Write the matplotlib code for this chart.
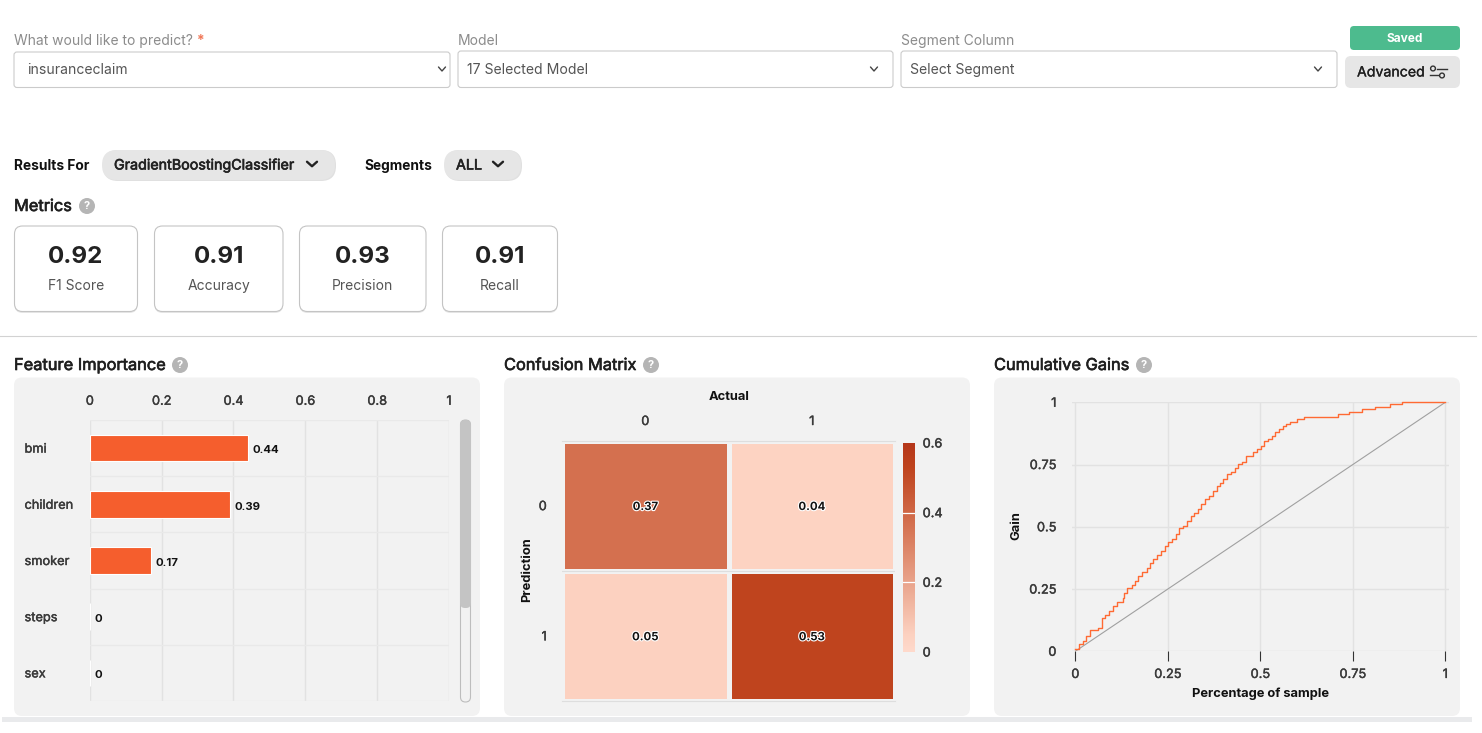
import matplotlib
matplotlib.use('Agg')
import matplotlib.pyplot as plt
import matplotlib.patheffects as pe
from matplotlib.colors import LinearSegmentedColormap
from matplotlib.patches import FancyBboxPatch, Circle
import numpy as np

plt.rcParams['font.family'] = ['Inter', 'DejaVu Sans']

W, H = 1482, 733

# data
metric_names = ['F1 Score', 'Accuracy', 'Precision', 'Recall']
metric_values = ['0.92', '0.91', '0.93', '0.91']

features = ['bmi', 'children', 'smoker', 'steps', 'sex']
importance = [0.44, 0.39, 0.17, 0, 0]
importance_ticks = [0, 0.2, 0.4, 0.6, 0.8, 1]
importance_ticklabels = ['0', '0.2', '0.4', '0.6', '0.8', '1']

confusion = [[0.37, 0.04], [0.05, 0.53]]
confusion_classes = ['0', '1']
colorbar_ticks = [0, 0.2, 0.4, 0.6]
colorbar_ticklabels = ['0', '0.2', '0.4', '0.6']

gain_x = [0, .011, .02, .03, .04, .06, .071, .08, .09, .103, .112, .13, .132, .141, .152, .161, .17, .181,
          .193, .202, .211, .22, .231, .242, .251, .26, .271, .281, .292, .301, .312, .322, .331, .341, .35,
          .361, .372, .382, .391, .40, .411, .421, .432, .441, .45, .46, .479, .49, .501, .511, .522, .531,
          .541, .551, .56, .57, .581, .60, .619, .711, .741, .774, .81, .85, .882, 1]
gain_y = [.01, .03, .04, .06, .086, .092, .133, .145, .16, .183, .20, .215, .233, .253, .266, .282, .304, .32,
          .333, .353, .371, .387, .403, .423, .44, .451, .471, .494, .502, .523, .542, .557, .573, .593, .612,
          .622, .643, .663, .676, .692, .711, .722, .738, .751, .762, .783, .802, .814, .826, .845, .854, .866,
          .882, .893, .904, .912, .922, .932, .942, .952, .962, .972, .983, .992, 1, 1]
gain_ticks = [0, 0.25, 0.5, 0.75, 1]
gain_ticklabels = ['0', '0.25', '0.5', '0.75', '1']

PANEL = '#F2F2F2'
GRID = '#E2E2E2'
TICK = '#3A3A3A'
DARK = '#1F1F1F'
GREY = '#8C8C8C'

fig = plt.figure(figsize=(W / 100, H / 100), dpi=100, facecolor='white')
ui = fig.add_axes([0, 0, 1, 1])
ui.set_xlim(0, W)
ui.set_ylim(H, 0)
ui.axis('off')


def box(x0, y0, x1, y1, r=4, fc='white', ec='none', lw=1.0, z=1):
    ui.add_patch(FancyBboxPatch((x0, y0), x1 - x0, y1 - y0, boxstyle=f'round,pad=0,rounding_size={r}',
                                fc=fc, ec=ec, lw=lw, zorder=z))


def medium(color, lw=0.3):
    # Inter only comes in regular and bold here, a thin stroke gives the medium look
    return [pe.withStroke(linewidth=lw, foreground=color)]


def txt(x, y, s, size=9.5, color=DARK, weight='normal', ha='left', va='center', **kw):
    # the +1.5 lines the text up with the reference's baselines
    ui.text(x, y + 1.5, s, fontsize=size, color=color, fontweight=weight, ha=ha, va=va, zorder=5, **kw)


def chevron(x, y, w=3.5, h=4, color='#444444', lw=1.0):
    ui.plot([x - w, x, x + w], [y - h / 2, y + h / 2, y - h / 2], color=color, lw=lw, zorder=5,
            solid_capstyle='round', solid_joinstyle='round')


def help_icon(x, y):
    ui.add_patch(Circle((x, y), 8, fc='#B5B5B5', ec='none', zorder=4))
    txt(x, y - 1.5, '?', size=8, color='white', weight='bold', ha='center')


# top form
txt(14, 40, 'What would like to predict?', size=10, color=GREY)
txt(197, 39, '*', size=10, color='#F0795A', weight='bold')
txt(458, 39.5, 'Model', size=10, color=GREY)
txt(901, 39.5, 'Segment Column', size=10, color=GREY)
for x0, x1, y0, label, lx, cx, ly in [(14, 450, 52, 'insuranceclaim', 27, 442, 69),
                                      (458, 893, 51, '17 Selected Model', 467, 874, 68),
                                      (901, 1337, 51, 'Select Segment', 910, 1318, 68.4)]:
    box(x0, y0, x1, 87.5, r=3, ec='#CBCBCB', lw=0.8)
    txt(lx, ly, label, size=10.1, color='#555555')
    chevron(cx, 69)
box(1350, 26, 1460, 50, r=4, fc='#4DBB8E')
txt(1405, 37, 'Saved', size=8.6, color='white', weight='bold', ha='center')
box(1345, 56, 1460, 88, r=6, fc='#E6E6E6')
txt(1357, 71, 'Advanced', size=10.2, color=DARK, path_effects=medium(DARK, 0.2))
ui.plot([1437, 1447], [69, 69], color='#333333', lw=1, zorder=5)
ui.plot([1430, 1438], [75, 75], color='#333333', lw=1, zorder=5)
ui.add_patch(Circle((1433, 68.5), 2.4, fc='none', ec='#333333', lw=1, zorder=5))
ui.add_patch(Circle((1442, 75.5), 2.4, fc='none', ec='#333333', lw=1, zorder=5))

# results row
txt(14, 164, 'Results For', size=9.9, color='#111111', weight='bold')
box(103, 150, 336, 181, r=15, fc='#E0E0E0', z=1)
box(102, 150, 335, 180, r=15, fc='#E6E6E6', z=2)
txt(114, 164, 'GradientBoostingClassifier', size=10.3, color='#222222', path_effects=medium('#222222', 0.45))
chevron(312, 164, w=5, h=4.5, color='#222222', lw=1.7)
txt(364, 164.4, 'Segments', size=9.9, color='#111111', weight='bold')
box(445, 150, 522, 181, r=15, fc='#E0E0E0', z=1)
box(444, 150, 521, 180, r=15, fc='#E6E6E6', z=2)
txt(456, 164, 'ALL', size=10.3, color='#222222', path_effects=medium('#222222', 0.45))
chevron(498, 164, w=5, h=4.5, color='#222222', lw=1.7)

# metric cards
txt(14, 205, 'Metrics', size=11.8, color=DARK, path_effects=medium(DARK, 0.45))
help_icon(87, 206)
card_edges = [(14.5, 137.5), (154.5, 283), (299.5, 426), (442.5, 557.5)]
for (x0, x1), name, value in zip(card_edges, metric_names, metric_values):
    box(x0, 227, x1, 313, r=8, fc='#E6E6E6', z=1)
    box(x0, 226, x1, 311.5, r=8, ec='#C4C4C4', lw=0.8, z=2)
    cx = (x0 + x1) / 2
    txt(cx, 261.5, value, size=17.4, color='#222222', weight='bold', ha='center', va='baseline')
    txt(cx, 288.5, name, size=10, color='#555555', ha='center', va='baseline')

ui.plot([0, 1476], [336, 336], color='#D2D2D2', lw=0.8, zorder=1)
ui.fill_between([2, 1472], 717, 722, color='#E9EAEC', lw=0, zorder=1)

# panels
for x0, x1, title, qx in [(14, 480, 'Feature Importance', 180), (504, 970, 'Confusion Matrix', 651),
                          (994, 1460, 'Cumulative Gains', 1144)]:
    box(x0, 377.5, x1, 716, r=8, fc=PANEL)
    txt(x0, 364, title, size=11.8, color=DARK, path_effects=medium(DARK, 0.45))
    help_icon(qx, 365)


def inset(x0, y0, x1, y1):
    ax = fig.add_axes([x0 / W, 1 - y1 / H, (x1 - x0) / W, (y1 - y0) / H])
    ax.patch.set_alpha(0)
    return ax


def style_ticks(ax):
    for lbl in ax.get_xticklabels() + ax.get_yticklabels():
        lbl.set_path_effects(medium(TICK, 0.3))


# feature importance
ax = inset(89.8, 420, 449, 701)
ypos = np.arange(len(features))
ax.barh(ypos, importance, height=0.47, color='#F55E2D', edgecolor='white', linewidth=0.8, zorder=3)
ax.set_xlim(0, 1)
ax.set_ylim(len(features) - 0.5, -0.5)
ax.set_xticks(importance_ticks, importance_ticklabels)
ax.set_yticks(ypos, features)
ax.set_yticks(np.arange(len(features) + 1) - 0.5, minor=True)
ax.xaxis.tick_top()
ax.grid(axis='x', color=GRID, lw=1, zorder=0)
ax.grid(axis='y', which='minor', color='#E9E9E9', lw=1, zorder=0)
ax.tick_params(axis='x', length=0, pad=8.8, labelsize=9.2, labelcolor=TICK)
ax.tick_params(axis='y', which='both', length=0, pad=47, labelsize=9.2, labelcolor=TICK)
for lbl in ax.get_yticklabels():
    lbl.set_ha('left')
style_ticks(ax)
for s in ax.spines.values():
    s.set_visible(False)
for y, v in zip(ypos, importance):
    ax.annotate(f'{v:g}', (v, y), xytext=(3.4, -1.6), textcoords='offset points', va='center', ha='left',
                fontsize=8.2, fontweight='bold', color='#111111')

# scrollbar
box(460.5, 420, 470.5, 702, r=5, fc=PANEL, ec='#BDBDBD', lw=0.8, z=2)
box(460, 420, 471, 608, r=5, fc='#C4C4C4', z=3)

# confusion matrix
cmap = LinearSegmentedColormap.from_list('cm', [(0, '#FFDACC'), (0.05 / 0.6, '#FCD1C0'), (0.37 / 0.6, '#D4704F'),
                                                (0.53 / 0.6, '#BF441E'), (1, '#B5371A')])
ax = inset(562, 440.5, 895, 701)
ax.pcolormesh(np.array(confusion), cmap=cmap, vmin=0, vmax=0.6, edgecolors=PANEL, linewidth=2.5)
ax.set_xlim(0, 2)
ax.set_ylim(2, 0)
ax.axhline(1, color='#DEDEDE', lw=0.8)
ax.set_xticks([0.5, 1.5], confusion_classes)
ax.set_yticks([0.5, 1.5], confusion_classes)
ax.xaxis.tick_top()
ax.tick_params(axis='x', length=0, pad=9, labelsize=9.2, labelcolor=TICK)
ax.tick_params(axis='y', length=0, pad=11, labelsize=9.2, labelcolor=TICK)
style_ticks(ax)
for name, s in ax.spines.items():
    s.set_visible(name in ('top', 'bottom'))
    s.set_color('#DEDEDE')
for i, row in enumerate(confusion):
    for j, v in enumerate(row):
        ax.annotate(f'{v:.2f}', (j + 0.5, i + 0.5), xytext=(0, -1), textcoords='offset points', ha='center',
                    va='center', fontsize=8.2, fontweight='bold', color='#111111',
                    path_effects=[pe.withStroke(linewidth=1.6, foreground='white')])
txt(729, 396, 'Actual', size=9.3, color='#111111', weight='bold', ha='center')
ui.text(527, 570, 'Prediction', fontsize=9.3, color='#111111', fontweight='bold', ha='center', va='center',
        rotation=90, zorder=5)

# colour scale
cax = inset(903, 443, 915, 652)
cax.imshow(np.linspace(0.6, 0, 256).reshape(-1, 1), cmap=cmap, vmin=0, vmax=0.6, aspect='auto',
           extent=[0, 1, 0, 0.6])
cax.set_xticks([])
cax.yaxis.tick_right()
cax.set_yticks(colorbar_ticks, colorbar_ticklabels)
cax.tick_params(axis='y', length=0, pad=5.5, labelsize=9.2, labelcolor=TICK)
style_ticks(cax)
for v in colorbar_ticks[1:-1]:
    cax.axhline(v, color='white', lw=0.9)
for s in cax.spines.values():
    s.set_visible(False)

# cumulative gains
ax = inset(1071.6, 402.3, 1449, 651.3)
ax.plot([0, 1], [0, 1], color='#A0A0A0', lw=0.8, zorder=3)
ax.plot(gain_x, gain_y, drawstyle='steps-post', color='#FF6A33', lw=1.0, zorder=4, clip_on=False)
ax.set_xlim(-0.01, 1.01)
ax.set_ylim(0, 1)
ax.set_xticks(gain_ticks, gain_ticklabels)
ax.set_yticks(gain_ticks, gain_ticklabels)
ax.grid(color=GRID, lw=1, zorder=0)
ax.tick_params(axis='x', length=7.2, width=0.8, color='#333333', pad=5.5, labelsize=9.2, labelcolor=TICK)
ax.tick_params(axis='y', length=0, pad=11, labelsize=9.2, labelcolor=TICK)
style_ticks(ax)
for s in ax.spines.values():
    s.set_visible(False)
txt(1260, 692, 'Percentage of sample', size=9.3, color='#111111', weight='bold', ha='center')
ui.text(1016, 526, 'Gain', fontsize=9.3, color='#111111', fontweight='bold', ha='center', va='center',
        rotation=90, zorder=5)

fig.savefig('out.png', dpi=100, facecolor='white')
